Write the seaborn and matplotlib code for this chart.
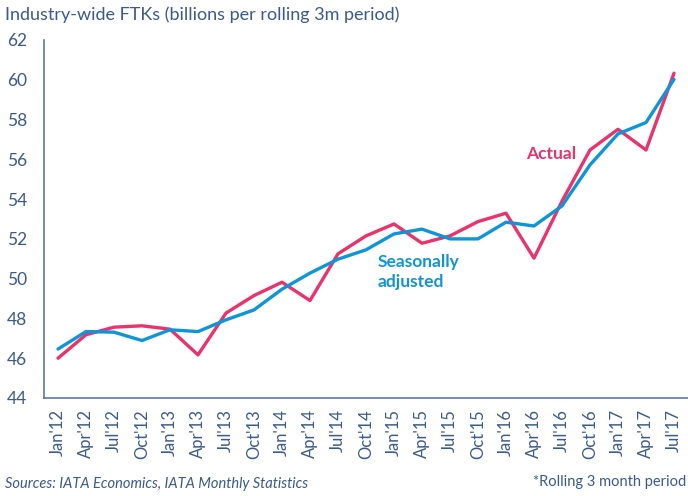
import pandas as pd
import matplotlib.pyplot as plt
import seaborn as sns

# quarterly labels (rolling 3m periods)
periods = ["Jan'12", "Apr'12", "Jul'12", "Oct'12", "Jan'13", "Apr'13", "Jul'13", "Oct'13",
           "Jan'14", "Apr'14", "Jul'14", "Oct'14", "Jan'15", "Apr'15", "Jul'15", "Oct'15",
           "Jan'16", "Apr'16", "Jul'16", "Oct'16", "Jan'17", "Apr'17", "Jul'17"]
actual = [46.0, 47.18, 47.56, 47.63, 47.46, 46.17, 48.27, 49.15, 49.82, 48.9, 51.25, 52.15,
          52.75, 51.78, 52.15, 52.87, 53.29, 51.03, 53.9, 56.47, 57.51, 56.47, 60.33]
seas_adj = [46.46, 47.34, 47.31, 46.89, 47.43, 47.34, 47.93, 48.43, 49.47, 50.28, 50.98, 51.45,
            52.25, 52.49, 52.0, 52.0, 52.84, 52.65, 53.66, 55.72, 57.28, 57.85, 60.02]

RED = '#E9336A'
BLUE = '#0E95D8'
TXT = '#3A5A8C'
AXC = '#5A7AA6'

df = pd.DataFrame({'idx': range(len(periods)), 'Actual': actual, 'Seasonally adjusted': seas_adj})
long = df.melt(id_vars='idx', var_name='series', value_name='ftk')

sns.set_style('white')
plt.rcParams['font.family'] = ['Lato', 'DejaVu Sans']

fig = plt.figure(figsize=(6.88, 4.96), dpi=100)
ax = fig.add_axes([44 / 688, 1 - 398 / 496, 644 / 688, 358 / 496])

sns.lineplot(data=long, x='idx', y='ftk', hue='series', palette={'Actual': RED, 'Seasonally adjusted': BLUE},
             hue_order=['Actual', 'Seasonally adjusted'], linewidth=2.4, legend=False, ax=ax)

ax.set_xlim(-0.5, len(periods) - 0.5)
ax.set_ylim(44, 62)
ax.set_yticks(range(44, 63, 2))
ax.set_xticks(range(len(periods)))
ax.set_xticklabels(periods, rotation=90, fontsize=12, color=TXT)
ax.set_xticks([i - 0.5 for i in range(len(periods) + 1)], minor=True)
ax.tick_params(axis='x', which='major', length=0, pad=8)
ax.tick_params(axis='x', which='minor', length=6, width=1, color=AXC, direction='out')
ax.tick_params(axis='y', length=6, width=1, color=AXC, direction='out', labelsize=12.5, labelcolor=TXT, pad=6)
for s in ['top', 'right']:
    ax.spines[s].set_visible(False)
for s in ['left', 'bottom']:
    ax.spines[s].set_color(AXC)
    ax.spines[s].set_linewidth(1.2)
ax.set_xlabel('')
ax.set_ylabel('')

ax.text(17.6, 56.25, 'Actual', color=RED, fontsize=12.5, fontweight='bold', ha='center', va='center')
ax.text(11.4, 50.35, 'Seasonally\nadjusted', color=BLUE, fontsize=12.5, fontweight='bold',
        ha='left', va='center', linespacing=1.3)

fig.text(5 / 688, 1 - 15 / 496, 'Industry-wide FTKs (billions per rolling 3m period)', color=TXT,
         fontsize=13, ha='left', va='center')
fig.text(5 / 688, 1 - 484 / 496, 'Sources: IATA Economics, IATA Monthly Statistics', color=TXT,
         fontsize=10.5, style='italic', ha='left', va='center')
fig.text(686 / 688, 1 - 482 / 496, '*Rolling 3 month period', color=TXT,
         fontsize=10.5, ha='right', va='center')

fig.savefig('out.png', dpi=100)
